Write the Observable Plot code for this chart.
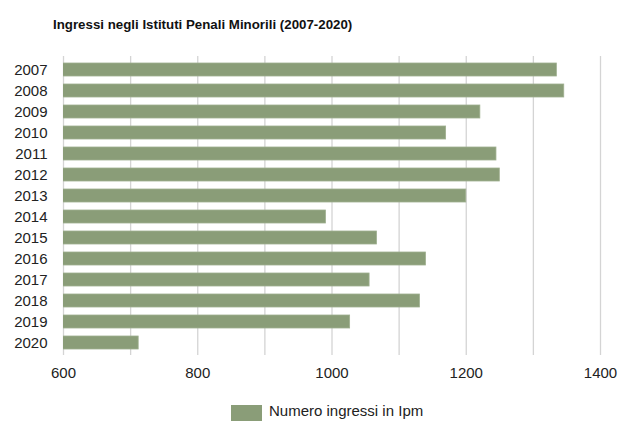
<!DOCTYPE html>
<html>
<head>
<meta charset="utf-8">
<script src="https://cdn.jsdelivr.net/npm/d3@7"></script>
<script src="https://cdn.jsdelivr.net/npm/@observablehq/plot@0.6"></script>
<style>
  html, body { margin: 0; padding: 0; background: #fff; }
  body { width: 619px; height: 421px; position: relative; overflow: hidden;
         font-family: "Liberation Sans", Arial, Helvetica, sans-serif; }
  #title { position: absolute; left: 53px; top: 18px; font-size: 13.3px; line-height: 13.3px;
           font-weight: bold; color: #111; white-space: nowrap; }
  #chart { position: absolute; left: 0; top: 44px; }
  #legend-swatch { position: absolute; left: 231px; top: 405px; width: 31px; height: 16px; }
  #legend-text { position: absolute; left: 269px; top: 403px; font-size: 15px; line-height: 15px;
                 color: #222; white-space: nowrap; }
</style>
</head>
<body>
<div id="title">Ingressi negli Istituti Penali Minorili (2007-2020)</div>
<div id="chart"></div>
<div id="legend-swatch"></div>
<div id="legend-text"></div>
<script>
const years = ["2007","2008","2009","2010","2011","2012","2013","2014","2015","2016","2017","2018","2019","2020"];
const ingressi = [1335, 1346, 1221, 1170, 1245, 1250, 1200, 991, 1067, 1140, 1056, 1131, 1027, 712];
const xTicks = [600, 800, 1000, 1200, 1400];
const gridTicks = [600, 700, 800, 900, 1000, 1100, 1200, 1300, 1400];
const xDomain = [600, 1400];
const seriesName = "Numero ingressi in Ipm";
const barColor = "#8a9d78";

const data = years.map((y, i) => ({year: y, value: ingressi[i]}));

const chart = Plot.plot({
  width: 619,
  height: 347,
  marginLeft: 63,
  marginRight: 19,
  marginTop: 12,
  marginBottom: 36,
  style: {fontFamily: "'Liberation Sans', Arial, Helvetica, sans-serif", fontSize: "15px", color: "#222", background: "#fff"},
  x: {domain: xDomain, ticks: xTicks, tickSize: 0, tickPadding: 12, label: null, tickFormat: d => String(d)},
  y: {domain: years, paddingInner: 0.4, paddingOuter: 0.2, tickSize: 0, tickPadding: 16, label: null},
  marks: [
    Plot.gridX(gridTicks, {stroke: "#d4d4d4", strokeOpacity: 1, strokeWidth: 1.3}),
    Plot.barX(data, {x: "value", y: "year", fill: barColor, stroke: "#9fb08f", strokeWidth: 0.8, clip: true}),
    Plot.axisX({ticks: xTicks, tickSize: 0, tickPadding: 12, label: null, tickFormat: d => String(d)}),
    Plot.axisY({tickSize: 0, tickPadding: 16, label: null})
  ]
});
document.getElementById("chart").appendChild(chart);
document.getElementById("legend-swatch").style.background = barColor;
document.getElementById("legend-text").textContent = seriesName;
</script>
</body>
</html>
